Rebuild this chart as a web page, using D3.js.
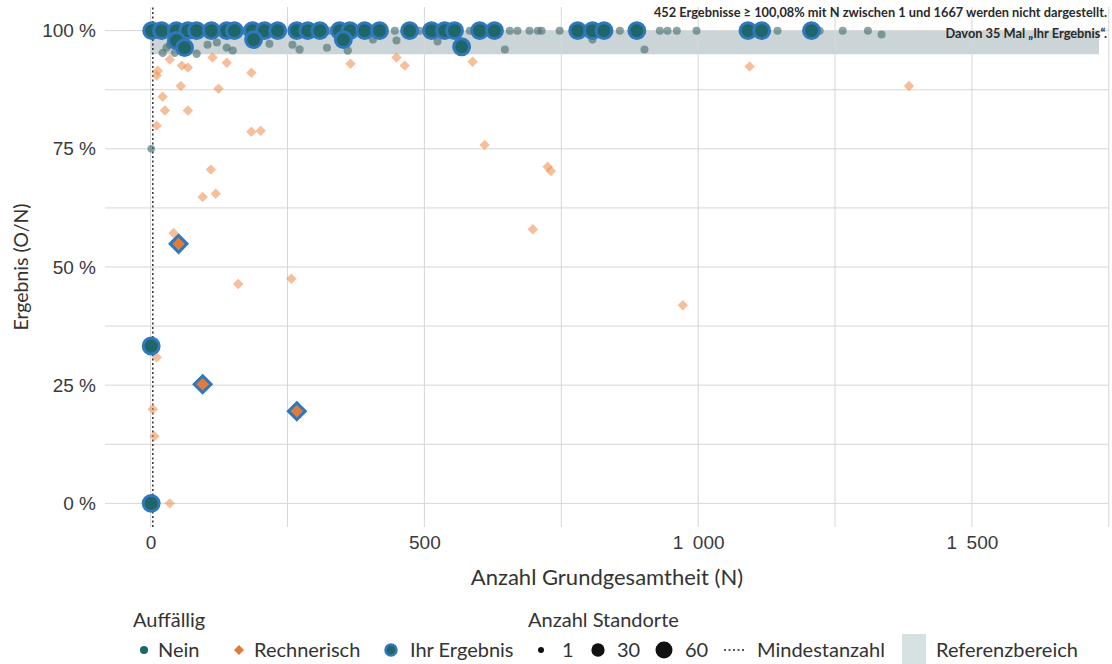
<!DOCTYPE html>
<html>
<head>
<meta charset="utf-8">
<script src="https://cdn.jsdelivr.net/npm/d3@7"></script>
<style>
  body { margin: 0; background: #fff; }
  svg { font-family: Lato, "Open Sans", sans-serif; }
</style>
</head>
<body>
<div id="chart"></div>
<script>
// Werte: [N, Ergebnis in %, Anzahl Standorte]
const neinPoints = [
  [11, 100, 5], [35, 100, 5], [99, 100, 5], [172, 100, 5], [327, 100, 5], [446, 100, 5],
  [491, 100, 5], [583, 100, 5], [656, 100, 5], [670, 100, 5], [692, 100, 5], [707, 100, 5],
  [714, 100, 5], [747, 100, 5], [857, 100, 5], [930, 100, 5], [944, 100, 5], [961, 100, 5],
  [997, 100, 5], [1145, 100, 5], [1222, 100, 5], [1264, 100, 5], [1310, 100, 5],
  [22, 95.3, 6], [29, 96.4, 6], [35, 97.0, 5], [44, 95.3, 6], [84, 95.1, 6], [104, 97.0, 5],
  [121, 97.5, 5], [139, 96.4, 6], [150, 95.8, 5], [217, 97.2, 5], [259, 97.0, 5],
  [272, 96.0, 6], [322, 96.4, 5], [360, 95.8, 6], [406, 98.1, 5], [449, 97.9, 5],
  [524, 97.7, 5], [647, 96.0, 5], [807, 98.1, 5], [902, 96.0, 5], [1335, 99.2, 5],
  [1, 75.0, 4]
];
const rechnerischPoints = [
  [35, 93.9, 3], [57, 92.6, 3], [68, 92.2, 3], [113, 94.3, 3], [139, 93.2, 3], [184, 91.1, 3],
  [365, 93.0, 3], [449, 94.3, 3], [464, 92.6, 3], [588, 93.4, 3], [1094, 92.4, 3],
  [13, 91.5, 3], [11, 90.5, 3], [55, 88.3, 3], [124, 87.7, 3], [22, 86.0, 3], [26, 83.1, 3],
  [68, 83.1, 3], [11, 79.9, 3], [184, 78.6, 3], [201, 78.8, 3], [1385, 88.3, 3],
  [610, 75.8, 3], [725, 71.2, 3], [731, 70.3, 3], [110, 70.6, 3], [95, 64.8, 3], [119, 65.5, 3],
  [698, 58.0, 3], [42, 57.2, 3], [160, 46.4, 3], [257, 47.5, 3], [972, 41.9, 3],
  [11, 30.9, 3], [4, 19.9, 3], [7, 14.2, 3], [35, 0, 3]
];
const ihrNeinPoints = [
  [2, 100, 50], [20, 100, 50], [47, 100, 50], [68, 100, 50], [84, 100, 50], [111, 100, 50],
  [139, 100, 50], [153, 100, 50], [186, 100, 50], [208, 100, 50], [232, 100, 50], [267, 100, 50],
  [287, 100, 50], [309, 100, 50], [345, 100, 50], [364, 100, 50], [391, 100, 50], [418, 100, 50],
  [473, 100, 50], [513, 100, 50], [537, 100, 50], [555, 100, 50], [601, 100, 50], [628, 100, 50],
  [780, 100, 50], [807, 100, 50], [828, 100, 50], [888, 100, 50], [1091, 100, 50], [1116, 100, 50],
  [1207, 100, 50],
  [47, 97.9, 50], [62, 96.4, 50], [188, 98.1, 50], [352, 98.1, 50], [568, 96.6, 50],
  [1, 33.3, 50], [1, 0, 50]
];
const ihrRechnerischPoints = [
  [51, 54.9, 45], [95, 25.2, 45], [267, 19.5, 45]
];
const xTicks = [0, 500, 1000, 1500];
const xGrid = [0, 250, 500, 750, 1000, 1250, 1500, 1750];
const yTicks = [0, 25, 50, 75, 100];
const yGrid = [0, 12.5, 25, 37.5, 50, 62.5, 75, 87.5, 100];
const referenzBereich = [95, 100];
const referenzN = [0, 1732];
const mindestanzahl = 4;
const sizeLegend = [1, 30, 60];
const hinweis = [
  "452 Ergebnisse ≥ 100,08% mit N zwischen 1 und 1667 werden nicht dargestellt.",
  "Davon 35 Mal „Ihr Ergebnis“."
];

const width = 1112, height = 664;
const teal = "#1e6668", orange = "#e07b39", blue = "#2f78be";

const svg = d3.select("#chart").append("svg").attr("width", width).attr("height", height);

const x = d3.scaleLinear().domain([-83.35, 1750.35]).range([105, 1109]);
const y = d3.scaleLinear().domain([-5, 105]).range([527, 7]);
const r = d3.scaleSqrt().domain([1, 60]).range([3, 8.5]);

const diamond = (s) => `M0,${-s}L${s},0L0,${s}L${-s},0Z`;

// Referenzbereich
svg.append("rect")
  .attr("x", x(referenzN[0])).attr("width", x(referenzN[1]) - x(referenzN[0]))
  .attr("y", y(referenzBereich[1])).attr("height", y(referenzBereich[0]) - y(referenzBereich[1]))
  .attr("fill", "#a9b9bc").attr("opacity", 0.6);

// Gitter
svg.append("g").selectAll("line").data(yGrid).join("line")
  .attr("x1", x.range()[0]).attr("x2", x.range()[1])
  .attr("y1", d => y(d)).attr("y2", d => y(d))
  .attr("stroke", "#d6d6d6").attr("stroke-width", 1);
svg.append("g").selectAll("line").data(xGrid).join("line")
  .attr("x1", d => x(d)).attr("x2", d => x(d))
  .attr("y1", y.range()[0]).attr("y2", y.range()[1])
  .attr("stroke", "#d6d6d6").attr("stroke-width", 1);

// Achsen
const yAxis = svg.append("g").attr("transform", `translate(${x.range()[0] - 6},0)`)
  .call(d3.axisLeft(y).tickValues(yTicks).tickSize(0).tickFormat(d => d + " %"));
const xAxis = svg.append("g").attr("transform", `translate(0,${y.range()[0] + 5})`)
  .call(d3.axisBottom(x).tickValues(xTicks).tickSize(0)
    .tickFormat(d => d3.format(",")(d).replace(",", "\u2002")));
[xAxis, yAxis].forEach(a => {
  a.select(".domain").remove();
  a.selectAll("text").attr("font-size", 19).attr("fill", "#3a3a3a").attr("font-family", null);
});

svg.append("text").attr("x", (x.range()[0] + x.range()[1]) / 2).attr("y", 585).attr("text-anchor", "middle")
  .attr("font-size", 22).attr("fill", "#333").text("Anzahl Grundgesamtheit (N)");
svg.append("text").attr("transform", `translate(28,${y(50)}) rotate(-90)`).attr("text-anchor", "middle")
  .attr("font-size", 19.5).attr("fill", "#333").text("Ergebnis (O/N)");

// Mindestanzahl
svg.append("line")
  .attr("x1", x(mindestanzahl)).attr("x2", x(mindestanzahl))
  .attr("y1", y.range()[0]).attr("y2", y.range()[1])
  .attr("stroke", "#222").attr("stroke-width", 1.4).attr("stroke-dasharray", "2,2.5");

// Punkte
svg.append("g").selectAll("circle").data(neinPoints).join("circle")
  .attr("cx", d => x(d[0])).attr("cy", d => y(d[1])).attr("r", d => r(d[2]))
  .attr("fill", "#4d7374").attr("opacity", 0.65);
svg.append("g").selectAll("path").data(rechnerischPoints).join("path")
  .attr("transform", d => `translate(${x(d[0])},${y(d[1])})`)
  .attr("d", d => diamond(r(d[2]) * 1.45))
  .attr("fill", "#ee8a48").attr("opacity", 0.55);
svg.append("g").selectAll("circle").data(ihrNeinPoints).join("circle")
  .attr("cx", d => x(d[0])).attr("cy", d => y(d[1])).attr("r", d => r(d[2]))
  .attr("fill", teal).attr("stroke", blue).attr("stroke-width", 3);
svg.append("g").selectAll("path").data(ihrRechnerischPoints).join("path")
  .attr("transform", d => `translate(${x(d[0])},${y(d[1])})`)
  .attr("d", d => diamond(r(d[2]) * 1.1))
  .attr("fill", orange).attr("stroke", blue).attr("stroke-width", 3).attr("stroke-linejoin", "miter");

// Hinweis oben rechts
svg.append("g").selectAll("text").data(hinweis).join("text")
  .attr("x", 1107).attr("y", (d, i) => 17 + i * 21)
  .attr("text-anchor", "end").attr("font-size", 12.8).attr("font-weight", 700)
  .attr("fill", "#2a2a2a").text(d => d);

// Legende
const lg = svg.append("g").attr("font-size", 20).attr("fill", "#333");
lg.append("text").attr("x", 133).attr("y", 627).text("Auffällig");
lg.append("text").attr("x", 528).attr("y", 627).text("Anzahl Standorte");
const ly = 650;
lg.append("circle").attr("cx", 144).attr("cy", ly).attr("r", 4).attr("fill", teal);
lg.append("text").attr("x", 158).attr("y", ly + 7).text("Nein");
lg.append("path").attr("transform", `translate(239,${ly})`).attr("d", diamond(5)).attr("fill", orange);
lg.append("text").attr("x", 254).attr("y", ly + 7).text("Rechnerisch");
lg.append("circle").attr("cx", 391).attr("cy", ly).attr("r", 5.5).attr("fill", teal)
  .attr("stroke", blue).attr("stroke-width", 2.5);
lg.append("text").attr("x", 410).attr("y", ly + 7).text("Ihr Ergebnis");
const sizeX = [541, 598, 664];
const sizeLabelX = [562, 617, 685];
sizeLegend.forEach((s, i) => {
  lg.append("circle").attr("cx", sizeX[i]).attr("cy", ly).attr("r", r(s)).attr("fill", "#111");
  lg.append("text").attr("x", sizeLabelX[i]).attr("y", ly + 7).text(s);
});
lg.append("line").attr("x1", 724).attr("x2", 746).attr("y1", ly).attr("y2", ly)
  .attr("stroke", "#222").attr("stroke-width", 1.4).attr("stroke-dasharray", "2,2.5");
lg.append("text").attr("x", 757).attr("y", ly + 7).text("Mindestanzahl");
lg.append("rect").attr("x", 902).attr("y", 634).attr("width", 24).attr("height", 31).attr("fill", "#d6e1e1");
lg.append("text").attr("x", 936).attr("y", ly + 7).text("Referenzbereich");
</script>
</body>
</html>
